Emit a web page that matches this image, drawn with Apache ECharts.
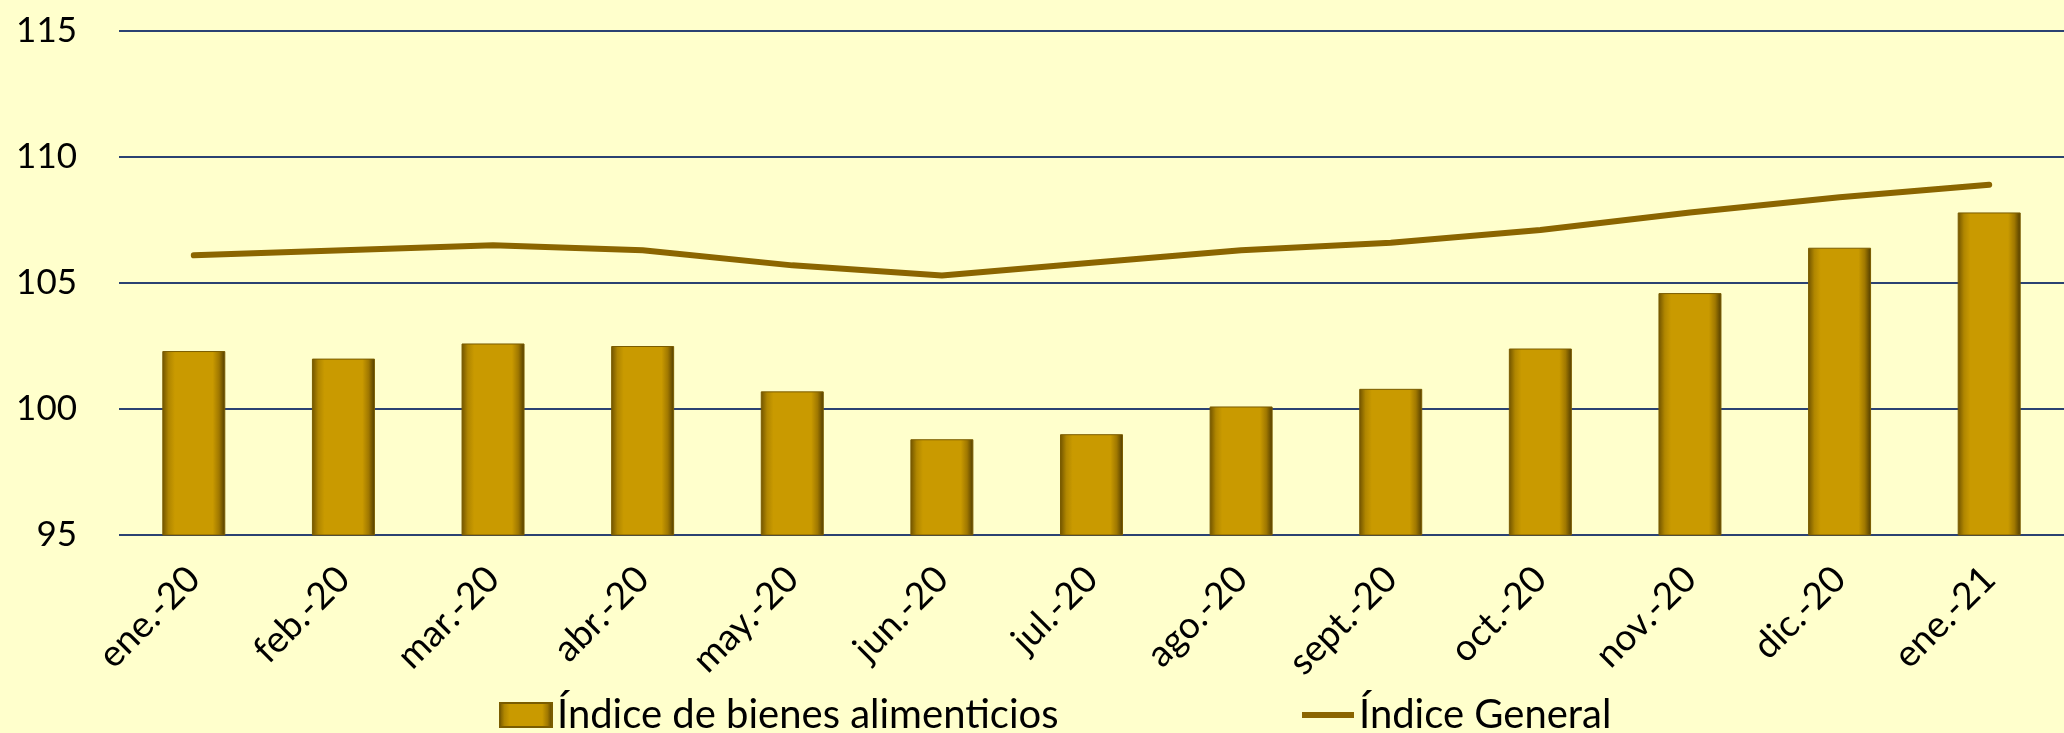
<!DOCTYPE html>
<html><head><meta charset="utf-8">
<script src="https://cdn.jsdelivr.net/npm/echarts@6/dist/echarts.min.js"></script>
<style>html,body{margin:0;padding:0;background:#FFFFCC;}#c{width:2064px;height:733px;}</style>
</head><body><div id="c"></div>
<script>
const categories = ['ene.-20','feb.-20','mar.-20','abr.-20','may.-20','jun.-20','jul.-20','ago.-20','sept.-20','oct.-20','nov.-20','dic.-20','ene.-21'];
const alimentos = [102.3,102.0,102.6,102.5,100.7,98.8,99.0,100.1,100.8,102.4,104.6,106.4,107.8];
const general = [106.1,106.3,106.5,106.3,105.7,105.3,105.8,106.3,106.6,107.1,107.8,108.4,108.9];
const yTicks = {min:95, max:115, interval:5};
const FONT = 'Lato';
const chart = echarts.init(document.getElementById('c'), null, {renderer:'canvas'});
chart.setOption({
  backgroundColor:'#FFFFCC',
  animation:false,
  textStyle:{fontFamily:FONT},
  grid:{left:119, right:0, top:31, bottom:198, containLabel:false},
  legend:[
    {
      left:494, top:690, itemWidth:52, itemHeight:24, itemGap:10,
      textStyle:{fontSize:40, color:'#000', fontFamily:FONT},
      data:[{name:'Índice de bienes alimenticios', icon:'rect'}]
    },
    {
      left:1297, top:690, itemWidth:52, itemHeight:6, itemGap:10,
      textStyle:{fontSize:40, color:'#000', fontFamily:FONT},
      data:[{name:'Índice General', icon:'rect'}]
    }
  ],
  xAxis:{
    type:'category', data:categories,
    axisLine:{show:false}, axisTick:{show:false},
    axisLabel:{rotate:45, fontSize:37, color:'#000', margin:38, interval:0, fontFamily:FONT}
  },
  yAxis:{
    type:'value', min:yTicks.min, max:yTicks.max, interval:yTicks.interval,
    axisLine:{show:false}, axisTick:{show:false},
    axisLabel:{fontSize:35, color:'#000', margin:42, fontFamily:FONT},
    splitLine:{lineStyle:{color:'#2B4272', width:2}}
  },
  series:[
    {
      name:'Índice de bienes alimenticios', type:'bar', data:alimentos, barWidth:63,
      itemStyle:{
        color:new echarts.graphic.LinearGradient(0,0,1,0,[
          {offset:0,color:'#6e5200'},{offset:0.1,color:'#b08600'},{offset:0.2,color:'#c99a00'},
          {offset:0.8,color:'#c99a00'},{offset:0.9,color:'#a07800'},{offset:1,color:'#4f3b00'}]),
        borderColor:'#7a5c00', borderWidth:1
      }
    },
    {
      name:'Índice General', type:'line', data:general, symbol:'none',
      lineStyle:{color:'#8B6500', width:6, cap:'round'},
      itemStyle:{color:'#8B6500'}, z:3
    }
  ]
});
</script></body></html>
